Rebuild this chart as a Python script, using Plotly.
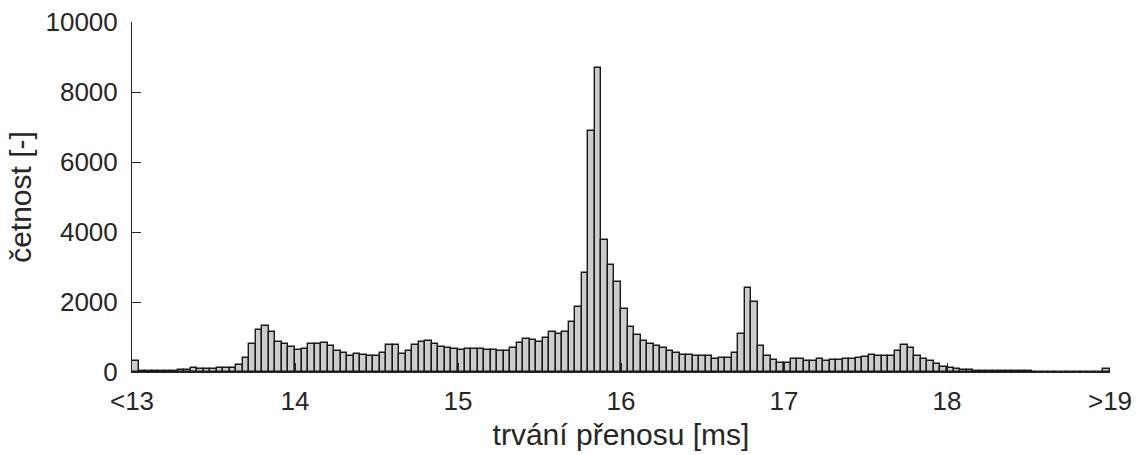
import plotly.graph_objects as go

# Histogram: 150 bins of 0.04 ms from 13 to 19 ms (first/last bins hold under/overflow)
BIN_START = 13.0
BIN_WIDTH = 0.04
counts = [
    310, 20, 20, 35, 35, 35, 35, 55, 70, 105,
    85, 75, 95, 105, 105, 115, 210, 410, 800, 1190,
    1320, 1130, 870, 810, 715, 640, 660, 800, 800, 820,
    740, 610, 550, 470, 515, 485, 450, 450, 530, 780,
    780, 520, 600, 760, 870, 895, 810, 725, 685, 645,
    620, 650, 665, 660, 640, 615, 610, 610, 695, 820,
    950, 905, 865, 980, 1140, 1075, 1150, 1430, 1870, 2840,
    6890, 8700, 3770, 3070, 2560, 1800, 1290, 1070, 875, 800,
    735, 695, 610, 550, 495, 495, 450, 465, 465, 380,
    400, 410, 535, 1075, 2390, 2000, 735, 450, 350, 270,
    270, 380, 380, 315, 305, 370, 325, 345, 345, 360,
    360, 400, 430, 495, 465, 450, 455, 600, 760, 685,
    450, 380, 325, 220, 150, 110, 75, 55, 50, 40,
    30, 30, 20, 20, 15, 15, 20, 15, 10, 10,
    10, 10, 10, 10, 5, 5, 10, 10, 10, 95,
]
bin_centers = [BIN_START + BIN_WIDTH * (i + 0.5) for i in range(len(counts))]

x_tickvals = [13, 14, 15, 16, 17, 18, 19]
x_ticktext = ["<13", "14", "15", "16", "17", "18", ">19"]
y_tickvals = [0, 2000, 4000, 6000, 8000, 10000]
y_ticktext = ["0", "2000", "4000", "6000", "8000", "10000"]

TXT = "#262626"

fig = go.Figure(
    go.Bar(
        x=bin_centers,
        y=counts,
        width=BIN_WIDTH,
        marker=dict(color="#cccccc", line=dict(color="#1a1a1a", width=1.4)),
        hoverinfo="skip",
    )
)

fig.update_layout(
    width=1137,
    height=455,
    margin=dict(l=132, r=27, t=22, b=83),
    plot_bgcolor="white",
    paper_bgcolor="white",
    font=dict(family="Liberation Sans, Arial, sans-serif", size=25, color=TXT),
    showlegend=False,
    bargap=0,
)

fig.update_xaxes(
    range=[13, 19],
    tickvals=x_tickvals,
    ticktext=x_ticktext,
    ticks="inside",
    ticklen=9,
    tickwidth=1,
    tickcolor=TXT,
    showline=True,
    linecolor=TXT,
    linewidth=1,
    showgrid=False,
    zeroline=False,
    automargin=False,
    title=dict(text="trvání přenosu [ms]", standoff=8),
    ticklabelstandoff=6,
    tickfont=dict(size=26),
)
fig.update_yaxes(
    range=[0, 10000],
    tickvals=y_tickvals,
    ticktext=y_ticktext,
    ticks="inside",
    ticklen=9,
    tickwidth=1,
    tickcolor=TXT,
    showline=True,
    linecolor=TXT,
    linewidth=1,
    showgrid=False,
    zeroline=False,
    automargin=False,
    title=dict(text="četnost [-]", standoff=4),
    ticklabelstandoff=8,
    tickfont=dict(size=26),
)

fig.write_html(
    "out.html",
    config={"displayModeBar": False},
    post_script="document.body.style.margin='0';document.body.style.padding='0';",
)
